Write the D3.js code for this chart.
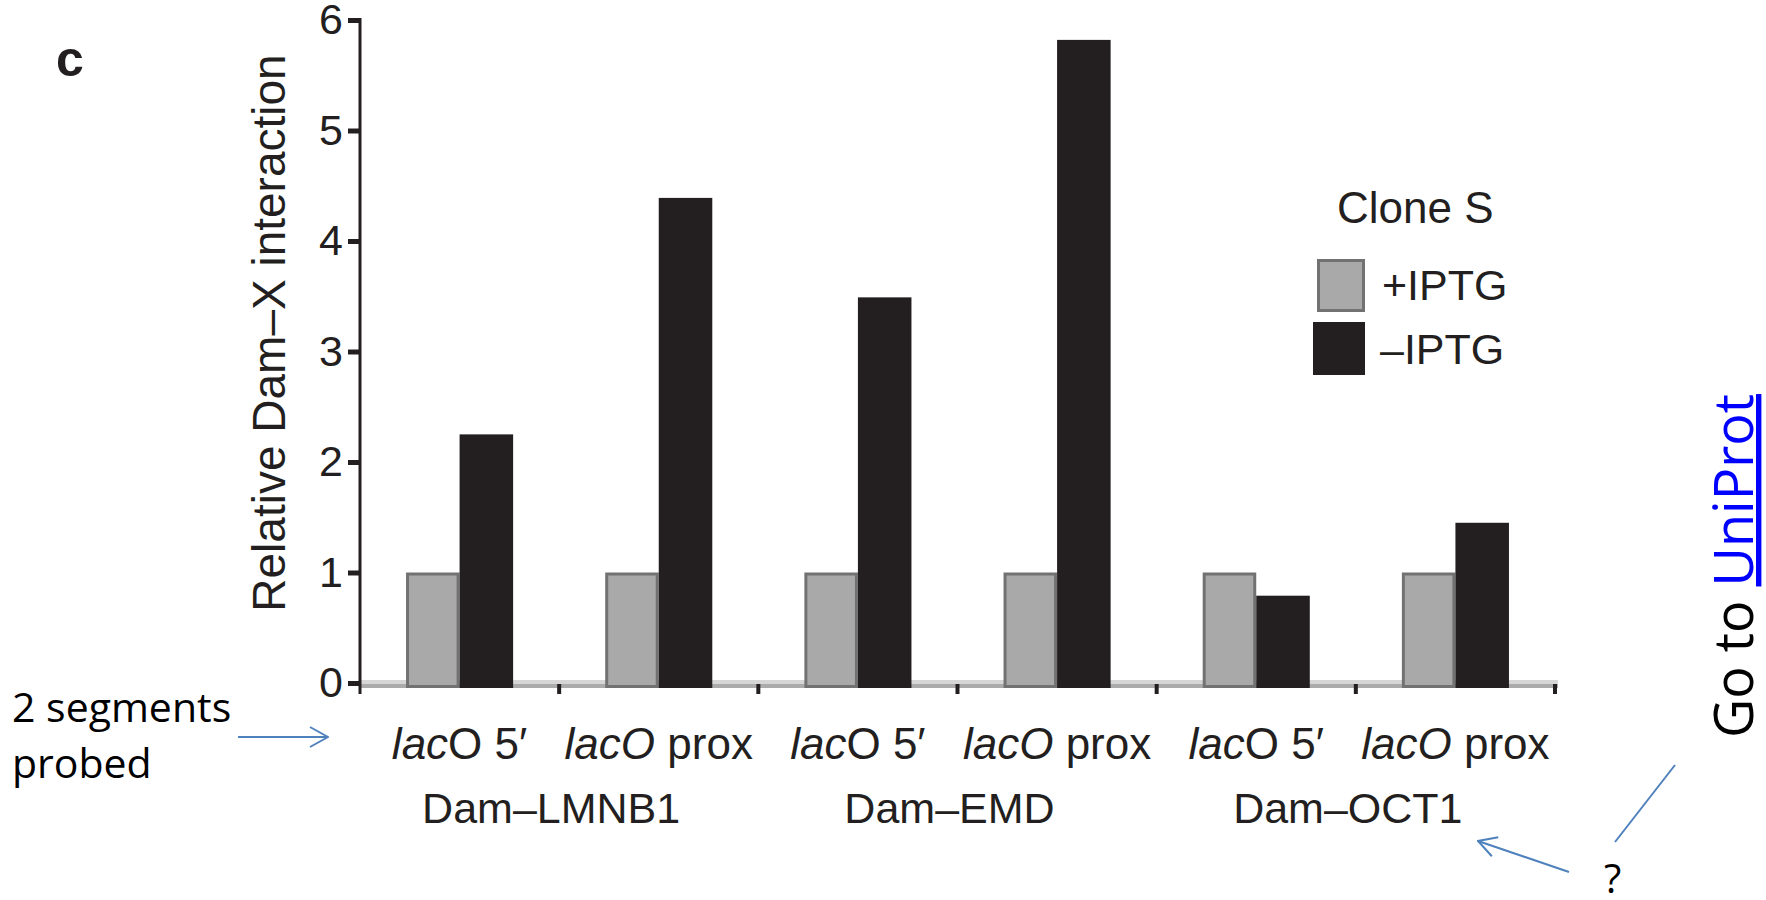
<!DOCTYPE html>
<html>
<head>
<meta charset="utf-8">
<script src="https://cdn.jsdelivr.net/npm/d3@7"></script>
<style>
  html, body { margin: 0; padding: 0; background: #ffffff; }
  svg { display: block; }
</style>
</head>
<body>
<script>
// ---------- data ----------
const groups = ["Dam\u2013LMNB1", "Dam\u2013EMD", "Dam\u2013OCT1"];
const segItalic = ["lac", "lacO"];
const segRoman = ["O 5\u2032", " prox"];
const categories = ["LMNB1-5", "LMNB1-prox", "EMD-5", "EMD-prox", "OCT1-5", "OCT1-prox"];
const seriesNames = ["+IPTG", "\u2013IPTG"];
const plusIPTG = [1, 1, 1, 1, 1, 1];
const minusIPTG = [2.25, 4.39, 3.49, 5.82, 0.79, 1.45];
const yTicks = [0, 1, 2, 3, 4, 5, 6];
const yTitle = "Relative Dam\u2013X interaction";
const legendTitle = "Clone S";
const panelLetter = "c";

// ---------- styles ----------
const INK = "#231f20";
const GREY_FILL = "#a9a9a9";
const GREY_STROKE = "#727272";
const BLUE = "#4f81bd";
const chartFont = "'Liberation Sans', Arial, sans-serif";
const noteFont = "'Open Sans', 'Noto Sans', sans-serif";

const svg = d3.select("body").append("svg")
  .attr("width", 1766).attr("height", 900);

const defs = svg.append("defs");
defs.append("marker")
  .attr("id", "open-arrow")
  .attr("viewBox", "0 0 20 24")
  .attr("refX", 19).attr("refY", 12)
  .attr("markerWidth", 20).attr("markerHeight", 24)
  .attr("markerUnits", "userSpaceOnUse")
  .attr("orient", "auto")
  .append("path")
  .attr("d", "M1,2 L19,12 L1,22")
  .attr("fill", "none").attr("stroke", BLUE).attr("stroke-width", 2);

// ---------- scales ----------
const y = d3.scaleLinear().domain([0, 6]).range([683, 20]);
const x0 = d3.scaleBand().domain(categories).range([360, 1555]).padding(0);
const x1 = d3.scaleBand().domain(seriesNames).range([0, x0.bandwidth()])
  .paddingInner(0).paddingOuter(0.86);

// ---------- baseline band ----------
const base = svg.append("g");
base.append("rect")
  .attr("x", x0.range()[0]).attr("width", x0.range()[1] - x0.range()[0] + 3)
  .attr("y", y(0) - 3).attr("height", 4).attr("fill", "#d6d6d6");
base.append("rect")
  .attr("x", x0.range()[0]).attr("width", x0.range()[1] - x0.range()[0] + 3)
  .attr("y", y(0) + 1).attr("height", 4).attr("fill", "#ababab");

// ---------- bars ----------
const rows = categories.map((c, i) => ({ c, plus: plusIPTG[i], minus: minusIPTG[i] }));
const bottom = y(0) + 5;
const gBars = svg.append("g").selectAll("g").data(rows).join("g")
  .attr("transform", d => `translate(${x0(d.c)},0)`);

const sw = 3;
gBars.append("rect")
  .attr("x", x1(seriesNames[0]) + sw / 2)
  .attr("width", x1.bandwidth() - sw)
  .attr("y", d => y(d.plus) + sw / 2)
  .attr("height", d => bottom - y(d.plus) - sw)
  .attr("fill", GREY_FILL).attr("stroke", GREY_STROKE).attr("stroke-width", sw);

gBars.append("rect")
  .attr("x", x1(seriesNames[1]))
  .attr("width", x1.bandwidth())
  .attr("y", d => y(d.minus))
  .attr("height", d => bottom - y(d.minus))
  .attr("fill", INK);

// ---------- y axis ----------
const yAxis = svg.append("g")
  .attr("transform", `translate(${x0.range()[0]},0)`)
  .call(d3.axisLeft(y).tickValues(yTicks).tickFormat(d3.format("d"))
    .tickSize(12).tickSizeOuter(0).tickPadding(5));
yAxis.select(".domain").remove();
yAxis.selectAll(".tick line").attr("stroke", INK).attr("stroke-width", 5);
yAxis.selectAll(".tick text")
  .attr("fill", INK).style("font-family", chartFont).style("font-size", "43px");
yAxis.append("line")
  .attr("x1", 0).attr("x2", 0)
  .attr("y1", y(6) - 2).attr("y2", y(0) + 11)
  .attr("stroke", INK).attr("stroke-width", 3);

// ---------- x ticks at band boundaries ----------
const bounds = categories.map(c => x0(c)).concat([x0.range()[1]]);
svg.append("g").selectAll("line").data(bounds.slice(1)).join("line")
  .attr("x1", d => d).attr("x2", d => d)
  .attr("y1", y(0) + 1).attr("y2", y(0) + 11)
  .attr("stroke", INK).attr("stroke-width", 4);

// ---------- x labels ----------
const segLabels = svg.append("g").selectAll("text").data(categories).join("text")
  .attr("x", d => x0(d) + x0.bandwidth() / 2)
  .attr("y", 759)
  .attr("text-anchor", "middle")
  .attr("fill", INK)
  .style("font-family", chartFont).style("font-size", "44px");
segLabels.append("tspan").style("font-style", "italic").text((d, i) => segItalic[i % 2]);
segLabels.append("tspan").text((d, i) => segRoman[i % 2]);

svg.append("g").selectAll("text").data(groups).join("text")
  .attr("x", (d, i) => (x0(categories[2 * i]) + x0(categories[2 * i + 1]) + x0.bandwidth()) / 2 - 8)
  .attr("y", 823)
  .attr("text-anchor", "middle")
  .attr("fill", INK)
  .style("font-family", chartFont).style("font-size", "43px")
  .text(d => d);

// ---------- y title ----------
svg.append("text")
  .attr("transform", "translate(285,333) rotate(-90)")
  .attr("text-anchor", "middle")
  .attr("fill", INK)
  .style("font-family", chartFont).style("font-size", "46px")
  .text(yTitle);

// ---------- panel letter ----------
svg.append("text")
  .attr("x", 56).attr("y", 76)
  .attr("fill", INK)
  .style("font-family", chartFont).style("font-size", "50px").style("font-weight", "bold")
  .text(panelLetter);

// ---------- legend ----------
const leg = svg.append("g");
leg.append("text")
  .attr("x", 1337).attr("y", 223)
  .attr("fill", INK)
  .style("font-family", chartFont).style("font-size", "44px")
  .text(legendTitle);
leg.append("rect")
  .attr("x", 1317 + sw / 2).attr("y", 259 + sw / 2)
  .attr("width", 48 - sw).attr("height", 53 - sw)
  .attr("fill", GREY_FILL).attr("stroke", GREY_STROKE).attr("stroke-width", sw);
leg.append("rect")
  .attr("x", 1313).attr("y", 322).attr("width", 52).attr("height", 53)
  .attr("fill", INK);
leg.selectAll("text.item").data(seriesNames).join("text")
  .attr("class", "item")
  .attr("x", (d, i) => 1382 - 2 * i)
  .attr("y", (d, i) => 300 + 64 * i)
  .attr("fill", INK)
  .style("font-family", chartFont).style("font-size", "43px")
  .text(d => d);

// ---------- annotations ----------
const notes = svg.append("g").style("font-family", noteFont).attr("fill", "#000");
notes.append("text").attr("x", 12).attr("y", 722).style("font-size", "41px").text("2 segments");
notes.append("text").attr("x", 12).attr("y", 778).style("font-size", "41px").text("probed");
notes.append("text").attr("x", 1604).attr("y", 893).style("font-size", "40px").text("?");

notes.append("line")
  .attr("x1", 238).attr("y1", 737).attr("x2", 328).attr("y2", 737)
  .attr("stroke", BLUE).attr("stroke-width", 2).attr("marker-end", "url(#open-arrow)");
notes.append("line")
  .attr("x1", 1569).attr("y1", 872).attr("x2", 1478).attr("y2", 841)
  .attr("stroke", BLUE).attr("stroke-width", 2).attr("marker-end", "url(#open-arrow)");
notes.append("line")
  .attr("x1", 1615).attr("y1", 842).attr("x2", 1675).attr("y2", 765)
  .attr("stroke", BLUE).attr("stroke-width", 2);

const goto = notes.append("text")
  .attr("transform", "translate(1753,738) rotate(-90)")
  .style("font-size", "54px");
goto.append("tspan").attr("fill", "#000").text("Go to ");
goto.append("tspan").attr("fill", "#0000ff").style("text-decoration", "underline").text("UniProt");
</script>
</body>
</html>
